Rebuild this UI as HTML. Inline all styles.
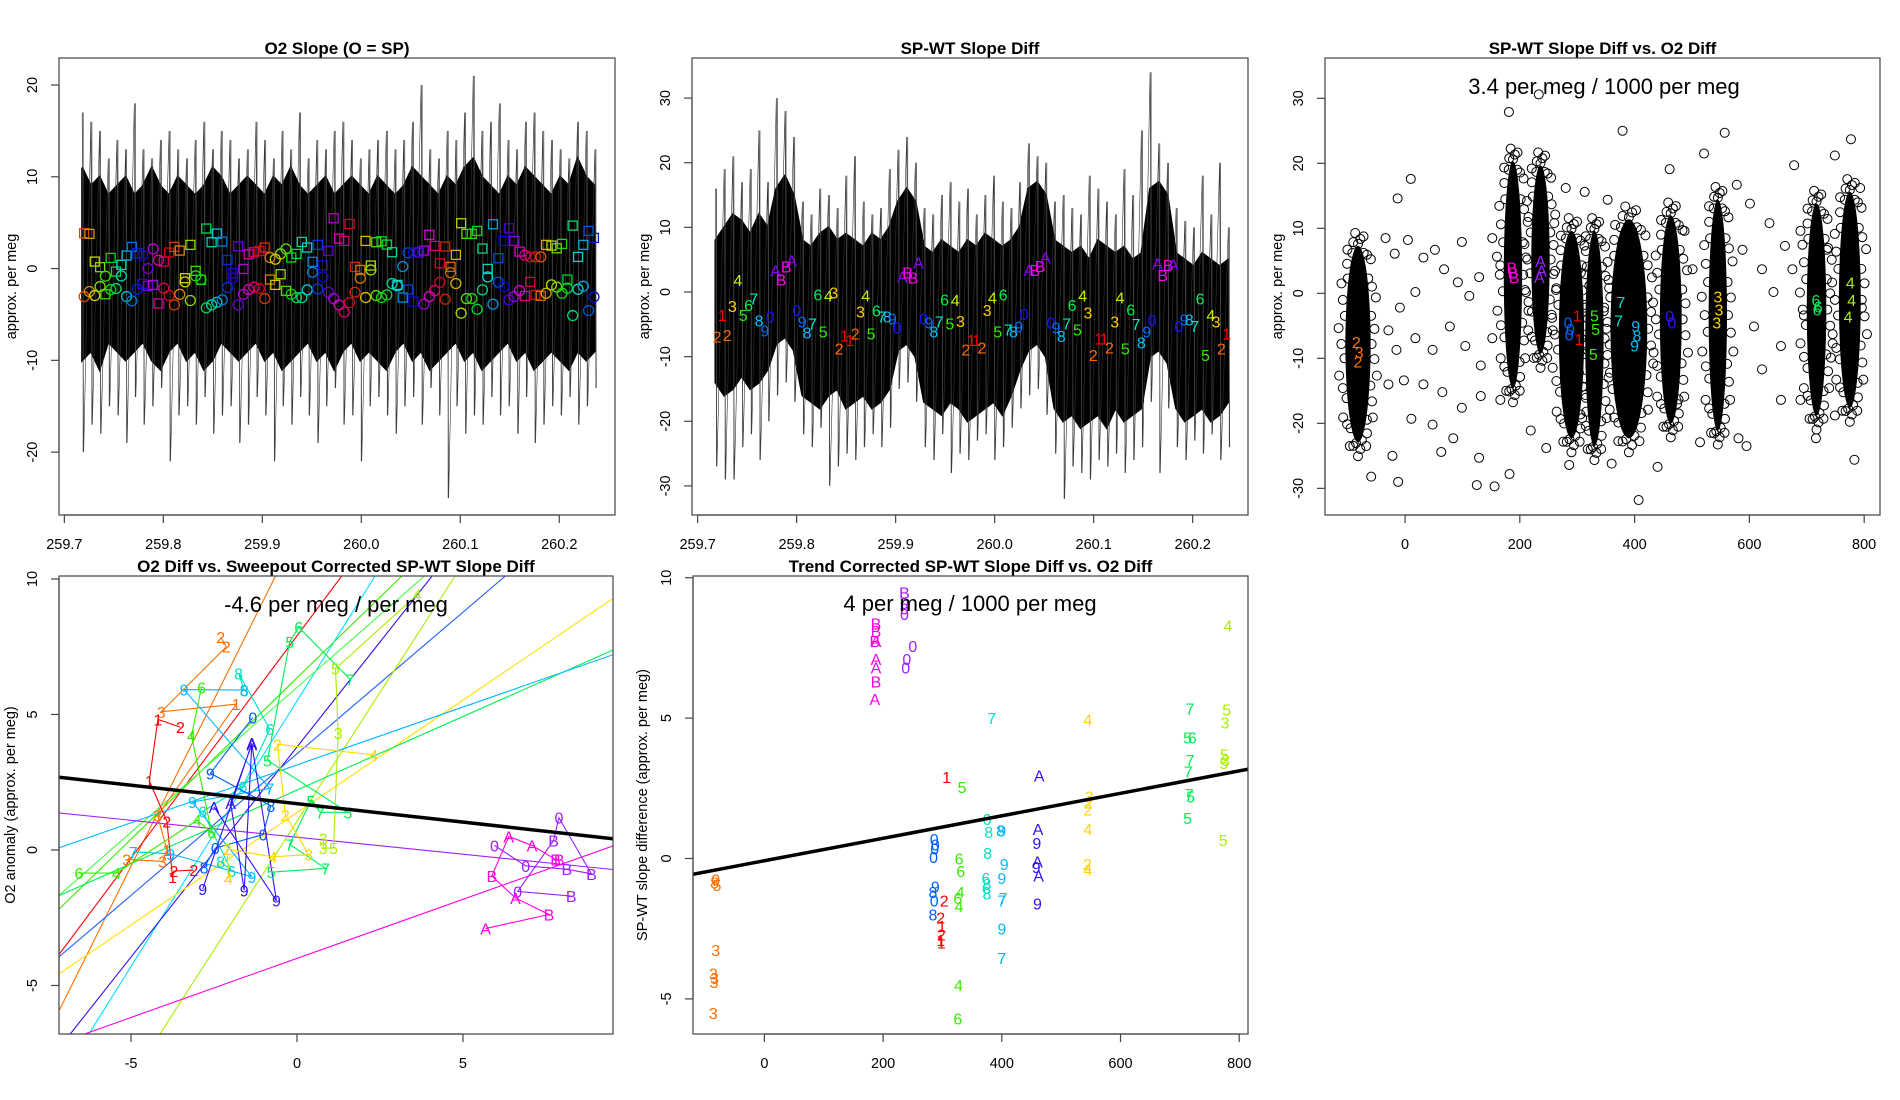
<!DOCTYPE html>
<html><head><meta charset="utf-8"><title>O2 slope diagnostics</title>
<style>
html,body{margin:0;padding:0;background:#fff;width:1900px;height:1100px;overflow:hidden;}
svg{display:block;font-family:"Liberation Sans",Arial,sans-serif;}
</style></head>
<body>
<svg id="chart" width="1900" height="1100" viewBox="0 0 1900 1100" xmlns="http://www.w3.org/2000/svg">
<rect x="0" y="0" width="1900" height="1100" fill="#fff"/>
<defs>
<clipPath id="c1"><rect x="59" y="58" width="556" height="457"/></clipPath>
<clipPath id="c2"><rect x="692" y="58" width="556" height="457"/></clipPath>
<clipPath id="c3"><rect x="1325" y="58" width="555" height="457"/></clipPath>
<clipPath id="c4"><rect x="59" y="576" width="554" height="458"/></clipPath>
<clipPath id="c5"><rect x="693" y="576" width="555" height="458"/></clipPath>
</defs>
</svg>
<script>
// ---------- Panel 1 data: O2 Slope ----------
const p1CoreHi=[11,9,10,8,9,10,8,9,11,9,8,10,9,8,9,11,10,8,9,10,9,8,10,9,11,9,8,9,10,8,9,10,9,8,10,9,8,9,11,10,9,8,10,9,11,12,10,9,8,10,9,11,10,9,8,10,9,12,10,9];
const p1CoreLo=[-10,-9,-11,-8,-9,-10,-9,-8,-10,-11,-9,-8,-10,-9,-11,-10,-8,-9,-10,-9,-8,-10,-9,-11,-10,-9,-8,-10,-9,-11,-9,-8,-10,-9,-10,-11,-9,-8,-10,-9,-11,-10,-9,-8,-10,-9,-11,-10,-9,-8,-10,-9,-11,-10,-9,-10,-11,-9,-10,-9];
const p1SpikeHi=[17,16,15,12,14,13,18,13,12,14,15,13,12,14,16,13,15,14,12,13,16,14,12,15,13,17,12,14,13,15,16,14,12,13,14,15,13,14,16,20,13,12,15,14,17,21,15,16,18,14,13,16,17,15,14,13,12,16,15,13];
const p1SpikeLo=[-20,-17,-18,-15,-16,-19,-14,-17,-15,-13,-21,-16,-15,-17,-14,-18,-16,-15,-19,-17,-14,-16,-21,-15,-17,-14,-16,-19,-15,-13,-17,-16,-21,-15,-14,-16,-18,-15,-14,-17,-13,-16,-25,-15,-18,-16,-17,-14,-16,-15,-18,-14,-19,-17,-15,-16,-14,-17,-15,-13];
const p1Start=259.718, p1End=260.236;
const p1Squares=[3.85,3.78,0.76,0.15,-2.8,1.16,-0.33,0.4,1.42,2.36,1.67,-1.67,-1.89,-1.78,-3.81,0.76,1.74,2.36,1.96,-1.05,2.58,-0.25,-1.23,4.36,2.87,3.81,2.94,0.94,-0.51,2.43,-0.04,1.56,1.78,1.92,2.29,-1.2,-1.78,-0.62,-2.43,1.2,1.6,2.9,2.29,0.73,2.58,0.36,1.92,5.48,3.27,3.01,4.86,0.18,-0.15,3.01,0.33,2.87,2.98,2.61,1.78,-1.78,-3.16,-2.29,-3.59,1.74,1.96,3.67,2.47,0.58,2.4,0.18,1.49,4.94,3.78,3.78,4.1,2.18,-0.04,4.83,1.13,3.01,4.39,3.01,1.85,-2.98,-1.45,-2.87,-2.98,2.58,2.5,2.21,2.69,-1.2,4.68,1.27,2.58,4.1,3.34];
const p1Circles=[-3.05,-2.5,-2.94,-1.96,-0.83,-2.29,-2.18,-0.8,-3.05,-3.52,-2.25,1.45,0,2.14,0.91,-2.14,-2.94,-3.96,-2.8,-1.45,-3.48,-0.8,-1.2,-4.28,-3.96,-3.67,-3.41,-2.07,-1.02,-3.96,-2.8,-2.29,-2.03,-2.18,-3.27,1.2,1.02,1.6,2.14,-2.8,-3.16,-3.16,-2.32,-0.4,-2.21,-0.91,-2.58,-3.27,-3.96,-4.75,-3.7,-2.58,-1.05,-3.16,-0.15,-2.94,-3.16,-2.87,-1.63,-1.89,0.22,1.71,1.78,1.78,-3.88,-3.05,-2.4,-1.49,-3.34,-0.44,-1.63,-4.86,-3.27,-3.27,-4.43,-2.32,-0.91,-3.88,-1.49,-1.96,-3.41,-3.05,-2.4,1.45,1.27,1.27,1.27,-2.69,-1.78,-2.03,-2.69,-2.14,-5.12,-2.25,-1.92,-4.57,-3.09];
const p1MarkStart=259.72, p1MarkEnd=260.235;

// ---------- Panel 2 data: SP-WT Slope Diff ----------
const p2CoreHi=[8,10,12,11,9,12,10,16,18,15,8,7,9,10,8,9,8,7,9,8,10,14,16,14,7,6,8,7,6,8,7,9,8,7,8,10,16,17,15,8,7,6,7,5,8,7,6,7,5,6,16,17,15,6,5,4,6,5,4,5];
const p2CoreLo=[-14,-16,-15,-13,-15,-14,-12,-8,-7,-9,-16,-17,-18,-16,-15,-18,-17,-16,-18,-17,-15,-9,-8,-10,-17,-18,-19,-17,-18,-20,-19,-18,-17,-19,-16,-12,-9,-8,-10,-18,-20,-19,-21,-20,-19,-21,-18,-20,-19,-18,-10,-9,-11,-18,-20,-19,-18,-20,-19,-17];
const p2SpikeHi=[16,19,21,17,19,25,17,30,28,24,14,12,16,15,13,18,21,14,12,13,19,22,24,20,13,12,15,17,14,16,12,15,18,14,13,17,23,21,20,14,15,13,12,18,16,14,12,19,15,25,34,23,20,13,11,10,18,12,20,10];
const p2SpikeLo=[-27,-29,-29,-24,-22,-26,-20,-16,-14,-17,-22,-24,-21,-30,-27,-25,-26,-24,-22,-24,-21,-15,-14,-17,-24,-26,-22,-28,-25,-26,-23,-22,-26,-24,-21,-18,-16,-15,-19,-25,-32,-27,-28,-29,-26,-27,-25,-28,-26,-24,-17,-28,-18,-24,-26,-23,-25,-22,-26,-24];
const p2Start=259.718, p2End=260.236;
const p2Labels=["2","2","1","3","4","5","6","7","8","9","0","A","B","B","A","0","9","8","7","5","6","4","3","2","1","1","2","3","4","5","6","7","8","9","0","A","B","B","A","0","9","8","7","6","5","4","3","2","1","1","2","3","4","5","6","7","8","9","0","A","B","B","A","0","9","8","7","6","5","4","3","2","1","1","2","3","4","5","6","7","8","9","0","A","B","B","A","0","9","8","7","6","5","4","3","2","1"];
const p2T=[259.7195,259.7298,259.7249,259.7352,259.7406,259.746,259.7514,259.7568,259.7621,259.7679,259.7733,259.7787,259.7841,259.7895,259.7949,259.8002,259.8056,259.8106,259.816,259.8268,259.8214,259.8321,259.8375,259.8429,259.8483,259.8537,259.8591,259.8645,259.8698,259.8752,259.8806,259.886,259.8914,259.8968,259.9017,259.9067,259.9121,259.9175,259.9229,259.9283,259.9336,259.9386,259.944,259.9494,259.9548,259.9601,259.9655,259.9709,259.9763,259.9817,259.9871,259.9925,259.9978,260.0032,260.0086,260.0136,260.019,260.0244,260.0297,260.0347,260.0405,260.0459,260.0513,260.0567,260.062,260.0674,260.0728,260.0782,260.0836,260.0889,260.0943,260.0997,260.1051,260.1105,260.1159,260.1213,260.1267,260.132,260.1374,260.1428,260.1482,260.1536,260.159,260.1644,260.1698,260.1752,260.1805,260.1859,260.1913,260.1967,260.2021,260.2075,260.2129,260.2183,260.2236,260.229,260.2344];
const p2V=[-6.92,-6.66,-3.56,-2.17,1.86,-3.56,-2.01,-0.98,-4.44,-5.99,-3.82,3.3,1.96,3.92,4.85,-2.79,-4.59,-6.25,-4.85,-6.14,-0.36,-0.57,-0.1,-8.72,-6.76,-7.43,-6.4,-3.05,-0.57,-6.4,-2.89,-3.82,-3.82,-4.08,-5.52,2.37,2.99,2.27,4.59,-4.08,-4.75,-6.14,-4.59,-1.14,-4.85,-1.24,-4.49,-8.88,-7.43,-7.43,-8.57,-2.79,-0.88,-6.14,-0.36,-5.78,-6.14,-5.37,-3.41,3.41,3.41,4.03,5.32,-4.75,-5.52,-6.81,-4.85,-2.01,-5.78,-0.57,-3.2,-9.76,-7.18,-7.18,-8.57,-4.59,-0.83,-8.72,-2.68,-4.96,-7.85,-6.14,-4.34,4.44,2.63,4.18,4.28,-5.27,-4.23,-4.23,-5.27,-0.98,-9.76,-3.56,-4.59,-8.72,-6.4];

// ---------- Panel 3 data: scatter clusters ----------
const p3ClusterX=[-82,188,236,290,330,390,463,545,717,775];
const p3ClusterHalfW=[22,16,16,22,16,32,19,16,17,19];
const p3ClusterTop=[7.3,20.3,19.7,9.6,9.6,11.4,12,14.4,13.8,15.6];
const p3ClusterBottom=[-22.9,-14.6,-9.3,-22.3,-23.5,-22.3,-20,-21.1,-18.8,-17.6];
const p3OutX=[10,-13,-34,-18,5,32,52,68,92,112,129,152,166,99,18,-9,-29,-15,18,48,78,105,132,152,-29,-2,32,65,99,132,166,-22,-59,-12,63,125,156,182,129,84,11,48,233,181,557,379,777,749,521,461,578,601,635,662,622,642,608,655,622,655,689,595,581,514,474,246,219,360,407,440,286,783,716,749,689,487,353,313,280,260,474,501,588,675,695,735,742,796,793,678];
const p3OutY=[17.6,14.6,8.5,6.1,8.2,5.5,6.7,3.7,1.7,-0.4,2.5,8.5,4.3,7.9,0.2,-2.2,-5.7,-8.7,-6.9,-8.7,-5.1,-8.1,-11.1,-6.9,-14,-13.4,-14,-15.2,-17.6,-15.8,-16.4,-25,-28.2,-29,-24.4,-29.5,-29.7,-27.8,-25.3,-22.3,-19.3,-20.2,30.6,27.9,24.7,25,23.7,21.2,21.5,19.1,16.7,13.8,10.8,7.3,3.7,0.2,-5.1,-8.1,-11.7,-16.4,-16.4,-23.5,-22.3,-22.9,-17,-23.8,-21.1,-26.2,-31.8,-26.7,-26.4,-25.6,-22.3,-18.8,9.6,9.6,14.4,15.6,16.2,10.8,-0.4,3.7,6.7,3.7,-3.4,6.7,-9.9,-2.2,16.2,19.7];
const p3LabelText=["2","3","2","B","B","B","A","A","A","0","0","0","1","1","5","5","5","7","7","9","8","9","0","0","3","3","3","6","6","6","4","4","4"];
const p3LabelX=[-85,-80,-82,186,190,188,236,238,234,284,288,286,300,303,330,332,328,376,372,402,404,400,461,465,545,547,543,716,720,718,776,778,772];
const p3LabelY=[-7.5,-9,-10.5,4,2.5,3.2,5,3.5,2.5,-4.5,-5.5,-6.3,-3.4,-7,-3.4,-5.5,-9.3,-1.3,-4.2,-5,-6.5,-8,-3.5,-4.5,-0.5,-2.5,-4.5,-1,-2,-2.5,1.7,-1,-3.6];
const p3Colors=["#ff7000","#ff7000","#ff7000","#ff00e0","#ff00e0","#ff00e0","#a020ff","#a020ff","#a020ff","#0060ff","#0060ff","#0060ff","#ff0000","#ff0000","#33ee00","#33ee00","#33ee00","#00e0c0","#00e0c0","#00b8ff","#00b8ff","#00b8ff","#3010ff","#3010ff","#ffd500","#ffd500","#ffd500","#00ee55","#00ee55","#00ee55","#aaee00","#aaee00","#aaee00"];

// ---------- Panel 4 data ----------
const p4LineSlope=[2.46,1.64,1.96,1.19,1.07,1.55,1.045,1.9,0.83,0.543,0.427,-0.125,0.436];
const p4LineIntercept=[11.7,7.9,5.5,6.35,6.0,3.8,3.55,1.06,1.38,2.21,3.14,0.47,-4.0];
const p4LineColor=["#ff7000","#ff0000","#00e0ff","#33ee00","#44ff44","#3010ff","#2060ff","#aaee00","#ffe000","#00ee55","#00b8ff","#a020ff","#ff00e0"];
const p4FitSlope=-0.136, p4FitIntercept=1.71;
const p4GroupColor=["#ff7000","#ff0000","#00e0c0","#00b8ff","#0060ff","#3010ff","#33ee00","#00ee55","#aaee00","#ffd500","#a020ff","#ff00e0"];
const p4GroupLabels=[
 ["3","3","1","3","1","3","2","2"],
 ["2","2","1","2","1","1","2"],
 ["8","6","6","6","6","8","8"],
 ["7","9","9","9","7","9","8"],
 ["8","0","0","8","9","0"],
 ["9","A","9","A","A","9","A"],
 ["6","4","4","6","4","6"],
 ["5","7","7","5","7","5","5","5","6","7"],
 ["3","3","5","3","5","4"],
 ["4","2","4","3","2","2","4"],
 ["0","0","B","B","0","B","0","B"],
 ["A","B","A","B","A","A","B","B"]];
const p4GroupX=[
 [-5.13,-4.05,-3.92,-4.2,-1.83,-4.09,-2.13,-2.3],
 [-3.11,-3.71,-3.75,-3.92,-4.45,-4.19,-3.51],
 [-2.3,-1.97,-2.84,-1.63,-0.82,-1.76,-1.59],
 [-4.93,-3.81,-1.36,-3.15,-0.82,-3.4,-1.59],
 [-2.8,-2.46,-1.02,-0.79,-2.61,-1.33],
 [-2.84,-1.36,-1.59,-2.0,-1.36,-0.62,-2.5],
 [-6.57,-5.44,-3.01,-2.57,-3.18,-2.88],
 [-0.78,0.86,-0.22,0.42,0.7,1.53,-0.89,-0.22,0.05,1.6],
 [0.79,0.79,1.1,1.24,1.16,3.62],
 [-2.07,-2.1,-0.73,0.35,-0.35,-0.59,2.31],
 [5.95,6.89,8.13,8.87,7.89,7.73,6.65,8.26],
 [5.68,7.59,6.58,5.87,6.38,7.08,7.79,7.9]];
const p4GroupY=[
 [-0.35,-0.42,0,1.27,5.38,5.1,7.5,7.86],
 [-0.74,-0.78,-0.99,1.06,2.55,4.82,4.53],
 [-0.42,-0.78,1.42,2.34,4.46,6.52,5.88],
 [-0.07,-0.14,-0.99,1.77,2.27,5.92,5.9],
 [-0.64,0.07,0.57,1.63,2.83,4.89],
 [-1.44,3.94,-1.49,1.73,3.9,-1.87,1.59],
 [-0.85,-0.85,1.1,0.64,4.22,5.99],
 [-0.82,-0.68,0.21,1.81,1.39,1.39,3.31,7.68,8.22,6.3],
 [0.42,0.07,0.07,4.32,6.69,9.42],
 [-1.06,0.03,-0.25,-0.17,1.3,3.9,3.51],
 [0.17,-0.59,-0.71,-0.88,1.19,0.35,-1.53,-1.7],
 [-2.9,-2.38,-1.77,-0.96,0.5,0.17,-0.35,-0.35]];

// ---------- Panel 5 data ----------
const p5Labels=["B","0","0","0","0","0","0","B","B","A","B","A","A","B","A","0","8","5","3","3","3","3","3","1","2","2","1","2","1","1","5","6","6","4","6","4","4","6","0","0","0","0","9","8","0","8","6","8","8","6","8","6","8","7","8","9","9","9","7","9","7","7","A","A","9","A","9","A","9","4","3","2","2","4","2","4","7","5","6","7","7","7","5","5","4","5","3","5","3","5","5"];
const p5X=[236,236,236,236,250,240,238,188,188,188,186,188,188,188,186,-82,-84,-80,-82,-86,-84,-85,-86,307,303,297,299,298,297,298,333,328,331,330,326,328,327,326,286,288,287,285,288,284,286,284,375,378,376,373,375,374,375,383,398,400,404,400,402,400,400,400,463,461,459,460,458,462,460,545,547,546,545,545,544,545,717,713,721,717,714,716,718,713,781,779,776,775,777,774,773];
const p5Y=[9.47,9.1,8.9,8.7,7.56,7.1,6.8,8.36,8.1,7.74,7.74,7.1,6.8,6.3,5.68,-0.75,-0.85,-0.95,-3.25,-4.1,-4.25,-4.4,-5.5,2.9,-1.5,-2.1,-2.4,-2.7,-2.9,-3.0,2.55,0,-0.45,-1.2,-1.4,-1.7,-4.5,-5.7,0.7,0.5,0.35,0.05,-1.0,-1.2,-1.5,-2.0,1.4,0.95,0.2,-0.7,-0.9,-1.05,-1.25,5.0,1.0,1.0,-0.2,-0.7,-1.4,-2.5,-1.5,-3.55,2.95,1.05,0.55,-0.1,-0.3,-0.6,-1.6,4.95,2.2,2.0,1.75,1.05,-0.2,-0.4,5.35,4.3,4.3,3.5,3.1,2.3,2.2,1.45,8.3,5.3,4.85,3.7,3.5,3.4,0.65];
const p5Colors=["#a020ff","#a020ff","#a020ff","#a020ff","#a020ff","#a020ff","#a020ff","#ff00e0","#ff00e0","#ff00e0","#ff00e0","#ff00e0","#ff00e0","#ff00e0","#ff00e0","#ff7000","#ff7000","#ff7000","#ff7000","#ff7000","#ff7000","#ff7000","#ff7000","#ff0000","#ff0000","#ff0000","#ff0000","#ff0000","#ff0000","#ff0000","#33ee00","#33ee00","#33ee00","#33ee00","#33ee00","#33ee00","#33ee00","#33ee00","#0060ff","#0060ff","#0060ff","#0060ff","#0060ff","#0060ff","#0060ff","#0060ff","#00e0c0","#00e0c0","#00e0c0","#00e0c0","#00e0c0","#00e0c0","#00e0c0","#00e0c0","#00b8ff","#00b8ff","#00b8ff","#00b8ff","#00b8ff","#00b8ff","#00b8ff","#00b8ff","#3010ff","#3010ff","#3010ff","#3010ff","#3010ff","#3010ff","#3010ff","#ffd500","#ffd500","#ffd500","#ffd500","#ffd500","#ffd500","#ffd500","#00ee55","#00ee55","#00ee55","#00ee55","#00ee55","#00ee55","#00ee55","#00ee55","#aaee00","#aaee00","#aaee00","#aaee00","#aaee00","#aaee00","#aaee00"];
const p5FitSlope=0.004, p5FitIntercept=-0.08;

const charColor={"1":"#ff0000","2":"#ff6a00","3":"#ffcc00","4":"#c8f000","5":"#2eee00","6":"#00ee50","7":"#00e8c0","8":"#00c0ff","9":"#0070ff","0":"#1a10ff","A":"#8a00ff","B":"#ff00ee"};

const NS="http://www.w3.org/2000/svg";
const svg=document.getElementById("chart");
function mk(tag,attrs,parent){const e=document.createElementNS(NS,tag);for(const k in attrs)e.setAttribute(k,attrs[k]);(parent||svg).appendChild(e);return e;}
function lin(d0,d1,r0,r1){return v=>r0+(v-d0)/(d1-d0)*(r1-r0);}
// clip a line y=b+m*x to the panel's data domain; returns [xa,ya,xb,yb] in data units
function clipLine(p,m,b){
 let xa=p.xd[0], xb=p.xd[1];
 const ylo=p.yd[0], yhi=p.yd[1];
 if(m!==0){
  const xlo=(ylo-b)/m, xhi=(yhi-b)/m;
  const xmin=Math.min(xlo,xhi), xmax=Math.max(xlo,xhi);
  xa=Math.max(xa,xmin); xb=Math.min(xb,xmax);
 }
 return [xa,b+m*xa,xb,b+m*xb];
}

const panels=[
 {id:1,x0:59,x1:615,y0:58,y1:515,xd:[259.6946,260.2563],yd:[-26.85,22.94],xt:[259.7,259.8,259.9,260.0,260.1,260.2],xl:["259.7","259.8","259.9","260.0","260.1","260.2"],yt:[-20,-10,0,10,20],title:"O2 Slope (O = SP)",ylab:"approx. per meg",ty:54},
 {id:2,x0:692,x1:1248,y0:58,y1:515,xd:[259.6943,260.2559],yd:[-34.5,36.2],xt:[259.7,259.8,259.9,260.0,260.1,260.2],xl:["259.7","259.8","259.9","260.0","260.1","260.2"],yt:[-30,-20,-10,0,10,20,30],title:"SP-WT Slope Diff",ylab:"approx. per meg",ty:54},
 {id:3,x0:1325,x1:1880,y0:58,y1:515,xd:[-139.5,827.6],yd:[-34.1,36.2],xt:[0,200,400,600,800],xl:["0","200","400","600","800"],yt:[-30,-20,-10,0,10,20,30],title:"SP-WT Slope Diff vs. O2 Diff",ylab:"approx. per meg",ty:54},
 {id:4,x0:59,x1:613,y0:576,y1:1034,xd:[-7.17,9.52],yd:[-6.79,10.11],xt:[-5,0,5],xl:["-5","0","5"],yt:[-5,0,5,10],title:"O2 Diff vs. Sweepout Corrected SP-WT Slope Diff",ylab:"O2 anomaly (approx. per meg)",ty:572},
 {id:5,x0:693,x1:1248,y0:576,y1:1034,xd:[-120.3,814.8],yd:[-6.25,10.06],xt:[0,200,400,600,800],xl:["0","200","400","600","800"],yt:[-5,0,5,10],title:"Trend Corrected SP-WT Slope Diff vs. O2 Diff",ylab:"SP-WT slope difference (approx. per meg)",ty:572}
];
panels.forEach(p=>{p.sx=lin(p.xd[0],p.xd[1],p.x0,p.x1);p.sy=lin(p.yd[0],p.yd[1],p.y1,p.y0);
 p.g=mk("g",{"clip-path":"url(#c"+p.id+")"});
 
 
});
const [P1,P2,P3,P4,P5]=panels;

function band(p,coreHi,coreLo,spHi,spLo,t0,t1,nm){
 const n=coreHi.length, tx=i=>p.sx(t0+(t1-t0)*i/(n-1));
 let pts=[];
 for(let i=0;i<n;i++)pts.push(tx(i)+","+p.sy(coreHi[i]));
 for(let i=n-1;i>=0;i--)pts.push(tx(i)+","+p.sy(coreLo[i]));
 const core=mk("polygon",{points:pts.join(" "),fill:"#000",stroke:"#000","stroke-width":2},p.g);
 
 
 let z=[];
 for(let i=0;i<n;i++){z.push(tx(i)+","+p.sy(spHi[i]));z.push((tx(i)+1.5)+","+p.sy(spLo[i]));}
 const zig=mk("polyline",{points:z.join(" "),fill:"none",stroke:"#333","stroke-width":0.6},p.g);
 
 
 for(let i=0;i<n;i++){
  const l=mk("line",{x1:tx(i)+1,x2:tx(i)+1,y1:p.sy(spHi[i]),y2:p.sy(spLo[i]),stroke:"#444","stroke-width":0.8},p.g);
  
  
 }
}
band(P1,p1CoreHi,p1CoreLo,p1SpikeHi,p1SpikeLo,p1Start,p1End,"o2-slope");
band(P2,p2CoreHi,p2CoreLo,p2SpikeHi,p2SpikeLo,p2Start,p2End,"sp-wt-diff");

function hueColor(i,off){return "hsl("+((off+i*21)%360)+",100%,42%)";}
p1Squares.forEach((v,i)=>{
 const t=p1MarkStart+(p1MarkEnd-p1MarkStart)*i/(p1Squares.length-1);
 const cx=P1.sx(t),cy=P1.sy(v);
 const r=mk("rect",{x:cx-4.5,y:cy-4.5,width:9,height:9,fill:"none",stroke:hueColor(i,20),"stroke-width":1.3},P1.g);
 
 
});
p1Circles.forEach((v,i)=>{
 const t=p1MarkStart+(p1MarkEnd-p1MarkStart)*i/(p1Circles.length-1);
 const c=mk("circle",{cx:P1.sx(t),cy:P1.sy(v),r:5,fill:"none",stroke:hueColor(i,20),"stroke-width":1.3},P1.g);
 
 
});

p2Labels.forEach((s,i)=>{
 const t=mk("text",{x:P2.sx(p2T[i]),y:P2.sy(p2V[i])+6,"text-anchor":"middle","font-size":16,fill:charColor[s]},P2.g);
 t.textContent=s;
 
 
});

p3OutX.forEach((x,i)=>{
 const c=mk("circle",{cx:P3.sx(x),cy:P3.sy(p3OutY[i]),r:4.5,fill:"none",stroke:"#000","stroke-width":1},P3.g);
 
 
});
p3ClusterX.forEach((x,i)=>{
 const cx=P3.sx(x), rx=P3.sx(x+p3ClusterHalfW[i])-cx;
 const top=P3.sy(p3ClusterTop[i]), bot=P3.sy(p3ClusterBottom[i]);
 const cy=(top+bot)/2, ry=(bot-top)/2;
 const e=mk("ellipse",{cx:cx,cy:cy,rx:rx,ry:ry,fill:"#000"},P3.g);
 
 
 const steps=44;
 for(let k=0;k<steps;k++){
  const a=2*Math.PI*k/steps, off=(k%3)*3+1;
  const c=mk("circle",{cx:cx+(rx+off)*Math.cos(a),cy:cy+(ry+off*2)*Math.sin(a),r:4.5,fill:"none",stroke:"#000","stroke-width":1},P3.g);
  
  
 }
});
p3LabelText.forEach((s,i)=>{
 const t=mk("text",{x:P3.sx(p3LabelX[i]),y:P3.sy(p3LabelY[i])+6,"text-anchor":"middle","font-size":16,fill:p3Colors[i]},P3.g);
 t.textContent=s;
 
 
});

p4LineSlope.forEach((m,i)=>{
 const s=clipLine(P4,m,p4LineIntercept[i]);
 const l=mk("line",{x1:P4.sx(s[0]),y1:P4.sy(s[1]),x2:P4.sx(s[2]),y2:P4.sy(s[3]),stroke:p4LineColor[i],"stroke-width":1.1},P4.g);
 
 
});
p4GroupX.forEach((xs,g)=>{
 const pts=xs.map((x,k)=>P4.sx(x)+","+P4.sy(p4GroupY[g][k])).join(" ");
 const pl=mk("polyline",{points:pts,fill:"none",stroke:p4GroupColor[g],"stroke-width":1.1},P4.g);
 
 
 xs.forEach((x,k)=>{
  const t=mk("text",{x:P4.sx(x),y:P4.sy(p4GroupY[g][k])+6,"text-anchor":"middle","font-size":16,fill:p4GroupColor[g]},P4.g);
  t.textContent=p4GroupLabels[g][k];
  
  
 });
});
{const s=clipLine(P4,p4FitSlope,p4FitIntercept);
 const l=mk("line",{x1:P4.sx(s[0]),y1:P4.sy(s[1]),x2:P4.sx(s[2]),y2:P4.sy(s[3]),stroke:"#000","stroke-width":3.5},P4.g);
 
 }

p5Labels.forEach((s,i)=>{
 const t=mk("text",{x:P5.sx(p5X[i]),y:P5.sy(p5Y[i])+6,"text-anchor":"middle","font-size":16,fill:p5Colors[i]},P5.g);
 t.textContent=s;
 
 
});
{const s=clipLine(P5,p5FitSlope,p5FitIntercept);
 const l=mk("line",{x1:P5.sx(s[0]),y1:P5.sy(s[1]),x2:P5.sx(s[2]),y2:P5.sy(s[3]),stroke:"#000","stroke-width":3.5},P5.g);
 
 }

[[1604,94,"3.4 per meg / 1000 per meg"],[336,612,"-4.6 per meg / per meg"],[970,611,"4 per meg / 1000 per meg"]].forEach(a=>{
 const t=mk("text",{x:a[0],y:a[1],"text-anchor":"middle","font-size":22,fill:"#000"});
 t.textContent=a[2];
 
 
});

panels.forEach(p=>{
 const box=mk("rect",{x:p.x0,y:p.y0,width:p.x1-p.x0,height:p.y1-p.y0,fill:"none",stroke:"#444","stroke-width":1.2});
 
 
 const xa=mk("line",{x1:p.sx(p.xt[0]),x2:p.sx(p.xt[p.xt.length-1]),y1:p.y1,y2:p.y1,stroke:"#444","stroke-width":1.2});
 
 
 p.xt.forEach((v,i)=>{
  const x=p.sx(v);
  const tk=mk("line",{x1:x,x2:x,y1:p.y1,y2:p.y1+8,stroke:"#444","stroke-width":1.2});
  
  
  const tl=mk("text",{x:x,y:p.y1+34,"text-anchor":"middle","font-size":14.5,fill:"#000"});
  tl.textContent=p.xl[i];
  
  
 });
 const ya=mk("line",{x1:p.x0,x2:p.x0,y1:p.sy(p.yt[0]),y2:p.sy(p.yt[p.yt.length-1]),stroke:"#444","stroke-width":1.2});
 
 
 p.yt.forEach(v=>{
  const y=p.sy(v);
  const tk=mk("line",{x1:p.x0-8,x2:p.x0,y1:y,y2:y,stroke:"#444","stroke-width":1.2});
  
  
  const tl=mk("text",{x:p.x0-22,y:y,"text-anchor":"middle","font-size":14.5,fill:"#000",transform:"rotate(-90 "+(p.x0-22)+" "+y+")"});
  tl.textContent=String(v);
  
  
 });
 const cy=(p.y0+p.y1)/2, lx=p.x0-(p.id===5?46:(p.id===4?44:43));
 const yl=mk("text",{x:lx,y:cy,"text-anchor":"middle","font-size":14.5,fill:"#000",transform:"rotate(-90 "+lx+" "+cy+")"});
 yl.textContent=p.ylab;
 
 
 const tt=mk("text",{x:(p.x0+p.x1)/2,y:p.ty,"text-anchor":"middle","font-size":17,"font-weight":"bold",fill:"#000"});
 tt.textContent=p.title;
 
 
});
</script>
</body></html>
